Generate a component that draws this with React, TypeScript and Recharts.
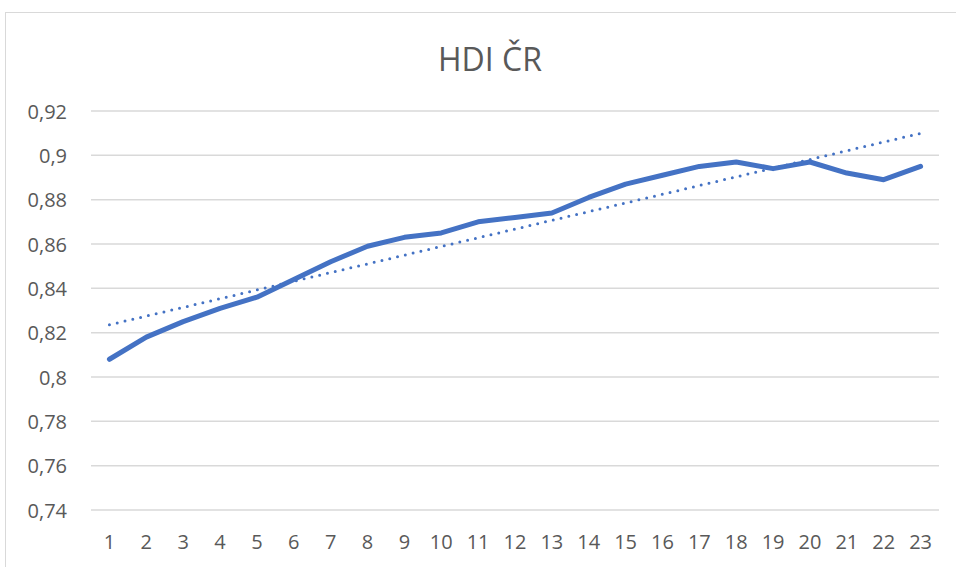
import React from "react";
import { LineChart, Line, XAxis, YAxis, CartesianGrid } from "recharts";

const title = "HDI ČR";
const categories = ["1","2","3","4","5","6","7","8","9","10","11","12","13","14","15","16","17","18","19","20","21","22","23"];
const hdiValues = [0.808,0.818,0.825,0.831,0.836,0.844,0.852,0.859,0.863,0.865,0.870,0.872,0.874,0.881,0.887,0.891,0.895,0.897,0.894,0.897,0.892,0.889,0.895];
const yTicks = [0.74,0.76,0.78,0.8,0.82,0.84,0.86,0.88,0.9,0.92];

// Linear trendline (least squares), as in the source chart
const n = hdiValues.length;
const xs = hdiValues.map((_, i) => i + 1);
const mx = xs.reduce((a, b) => a + b, 0) / n;
const my = hdiValues.reduce((a, b) => a + b, 0) / n;
const slope =
  xs.reduce((s, x, i) => s + (x - mx) * (hdiValues[i] - my), 0) /
  xs.reduce((s, x) => s + (x - mx) * (x - mx), 0);
const intercept = my - slope * mx;

const data = categories.map((c, i) => ({
  cat: c,
  hdi: hdiValues[i],
  trend: intercept + slope * xs[i],
}));

const FONT = "'Open Sans', 'Noto Sans', sans-serif";
const TEXT = "#595959";
const PLOT_W = 956 - 91 - 17;
const HALF_BAND = PLOT_W / categories.length / 2;

const XTick = (props: any) => {
  const { x, y, payload } = props;
  return (
    <text x={x} y={y + 39} textAnchor="middle" fill={TEXT} fontSize={20} fontFamily={FONT}>
      {payload.value}
    </text>
  );
};

const YTick = (props: any) => {
  const { x, y, payload } = props;
  return (
    <text x={x - 24} y={y + 7.5} textAnchor="end" fill={TEXT} fontSize={20} fontFamily={FONT}>
      {String(payload.value).replace(".", ",")}
    </text>
  );
};

export default function App() {
  return (
    <div
      style={{
        position: "fixed",
        left: 0,
        top: 0,
        width: 956,
        height: 567,
        overflow: "hidden",
        background: "#fff",
      }}
    >
      <div
        style={{
          position: "absolute",
          left: 5,
          top: 12,
          width: 1000,
          height: 600,
          border: "1px solid #d9d9d9",
          boxSizing: "border-box",
        }}
      />
      <div
        style={{
          position: "absolute",
          left: 0,
          top: 45,
          width: 980,
          textAlign: "center",
          fontFamily: FONT,
          fontWeight: 400,
          fontSize: 32,
          lineHeight: "28px",
          color: TEXT,
        }}
      >
        {title}
      </div>
      <div style={{ position: "absolute", left: 0, top: 0 }}>
        <LineChart
          width={956}
          height={567}
          data={data}
          margin={{ top: 111, right: 17, bottom: 0, left: 0 }}
        >
          <CartesianGrid vertical={false} stroke="#d9d9d9" strokeWidth={1.5} />
          <XAxis
            dataKey="cat"
            height={57}
            axisLine={false}
            tickLine={false}
            tickSize={0}
            tickMargin={0}
            interval={0}
            padding={{ left: HALF_BAND, right: HALF_BAND }}
            tick={<XTick />}
          />
          <YAxis
            width={91}
            domain={[0.74, 0.92]}
            ticks={yTicks}
            axisLine={false}
            tickLine={false}
            tickSize={0}
            tickMargin={0}
            tick={<YTick />}
            allowDataOverflow
          />
          <Line
            type="linear"
            dataKey="trend"
            stroke="#4472C4"
            strokeWidth={3}
            strokeDasharray="0 8"
            strokeLinecap="round"
            dot={false}
            activeDot={false}
            isAnimationActive={false}
          />
          <Line
            type="linear"
            dataKey="hdi"
            stroke="#4472C4"
            strokeWidth={5}
            strokeLinecap="round"
            strokeLinejoin="round"
            dot={false}
            activeDot={false}
            isAnimationActive={false}
          />
        </LineChart>
      </div>
    </div>
  );
}
